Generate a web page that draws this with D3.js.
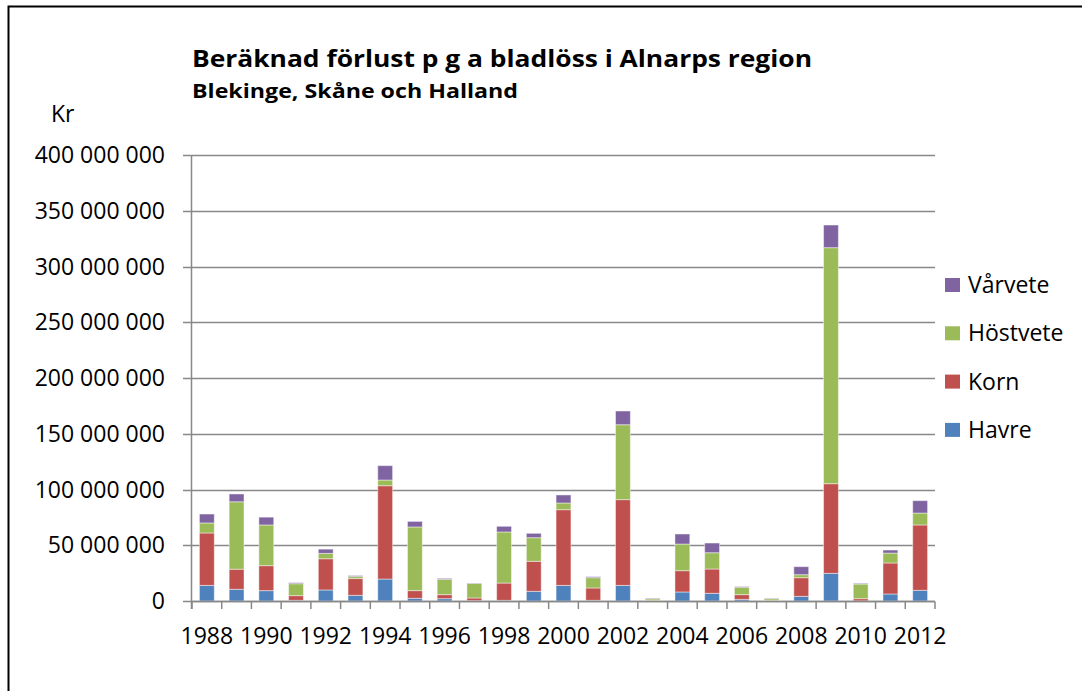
<!DOCTYPE html>
<html>
<head>
<meta charset="utf-8">
<script src="https://cdn.jsdelivr.net/npm/d3@7"></script>
<style>
  html, body { margin: 0; padding: 0; background: #fff; }
  svg text { font-family: "Open Sans", sans-serif; fill: #000; }
</style>
</head>
<body>
<div id="chart"></div>
<script>
// Data (miljoner kr)
var years = d3.range(1988, 2013).map(String);
var seriesNames = ["Havre", "Korn", "Höstvete", "Vårvete"];
var seriesColors = ["#4F81BD", "#C0504D", "#9BBB59", "#8064A2"];

var havre    = [14, 10.5, 9.3, 0.6, 9.9, 5.1, 19.7, 2.4, 2.1, 0.3, 0.6, 8.7, 14, 0.6, 14, 0.1, 8.1, 6.9, 1.5, 0.1, 4.2, 24.8, 0.1, 6.3, 9.6];
var korn     = [47, 18, 22.4, 4.2, 28, 15, 83.7, 6.9, 3.6, 2.4, 15.5, 26.9, 67.9, 11.1, 76.9, 0.3, 19.1, 21.8, 4.2, 0.3, 16.7, 80.4, 2.0, 27.8, 58.6];
var hostvete = [9, 60.5, 36.5, 10.7, 4.8, 1.8, 5.1, 57.1, 13.7, 13.1, 45.8, 21.2, 6, 9.2, 67.2, 1.5, 23.9, 14.6, 6.6, 1.6, 2.7, 211.7, 13.1, 8.9, 10.7];
var varvete  = [8, 7, 7, 0.9, 3.8, 0.9, 12.9, 5, 0.9, 0.3, 5.1, 3.9, 7.2, 0.9, 12.3, 0.5, 9, 8.7, 0.6, 0.4, 7.2, 20.3, 0.6, 2.7, 11.1];

var yTicks = d3.range(0, 400000001, 50000000);
var xLabels = years.filter(function(d, i){ return i % 2 === 0; });

var rows = years.map(function(y, i){
    return {
        year: y,
        "Havre": havre[i] * 1e6,
        "Korn": korn[i] * 1e6,
        "Höstvete": hostvete[i] * 1e6,
        "Vårvete": varvete[i] * 1e6
    };
});

var W = 1082, H = 691;
var svg = d3.select("#chart").append("svg")
    .attr("width", W)
    .attr("height", H);

// frame (only top and left edges visible)
svg.append("path")
    .attr("d", "M8.5,691 V6.5 H1082")
    .attr("fill", "none")
    .attr("stroke", "#000")
    .attr("stroke-width", 2);

var x = d3.scaleBand().domain(years).range([192, 935]).paddingInner(0.5).paddingOuter(0.25);
var y = d3.scaleLinear().domain([0, 400000000]).range([601, 155]);
var color = d3.scaleOrdinal().domain(seriesNames).range(seriesColors);

var fmt = function(d){ return d3.format(",")(d).replace(/,/g, " "); };

// gridlines + y labels
var g = svg.append("g");
g.selectAll(".grid").data(yTicks).enter().append("line")
    .attr("x1", 183).attr("x2", 935)
    .attr("y1", function(d){ return Math.round(y(d)) + 0.5; })
    .attr("y2", function(d){ return Math.round(y(d)) + 0.5; })
    .attr("stroke", "#888")
    .attr("stroke-width", 1.5);

g.selectAll(".ylab").data(yTicks).enter().append("text")
    .attr("x", 165)
    .attr("y", function(d){ return y(d) + 8; })
    .attr("text-anchor", "end")
    .style("font-size", "23px")
    .text(fmt);

// y axis line
g.append("line")
    .attr("x1", 191.5).attr("x2", 191.5)
    .attr("y1", y(400000000)).attr("y2", 609)
    .attr("stroke", "#888").attr("stroke-width", 1.5);

// stacked bars
var stack = d3.stack().keys(seriesNames);
var layers = stack(rows);

svg.append("g").selectAll("g").data(layers).enter().append("g")
    .attr("fill", function(d){ return color(d.key); })
    .selectAll("rect").data(function(d){ return d; }).enter().append("rect")
    .attr("x", function(d){ return x(d.data.year); })
    .attr("width", x.bandwidth())
    .attr("y", function(d){ return y(d[1]); })
    .attr("height", function(d){ return Math.max(0, y(d[0]) - y(d[1])); })
    .attr("stroke", "#fff")
    .attr("stroke-opacity", 0.45)
    .attr("stroke-width", 1);

// x axis line and category ticks
var bounds = years.map(function(d){ return x(d) - x.step() * x.paddingInner() / 2; }).concat([935]);
svg.append("line")
    .attr("x1", 191.5).attr("x2", 935)
    .attr("y1", 601.5).attr("y2", 601.5)
    .attr("stroke", "#888").attr("stroke-width", 1.5);
svg.selectAll(".xtick").data(bounds).enter().append("line")
    .attr("x1", function(d){ return d; }).attr("x2", function(d){ return d; })
    .attr("y1", 601.5).attr("y2", 609)
    .attr("stroke", "#888").attr("stroke-width", 1.5);

svg.selectAll(".xlab").data(xLabels).enter().append("text")
    .attr("x", function(d){ return x(d) + x.bandwidth() / 2; })
    .attr("y", 644)
    .attr("text-anchor", "middle")
    .style("font-size", "23px")
    .text(function(d){ return d; });

// titles
svg.append("text")
    .attr("x", 192).attr("y", 67)
    .attr("textLength", 620).attr("lengthAdjust", "spacingAndGlyphs")
    .style("font-size", "23.5px").style("font-weight", "bold")
    .text("Beräknad förlust p g a bladlöss i Alnarps region");
svg.append("text")
    .attr("x", 192).attr("y", 98)
    .attr("textLength", 326).attr("lengthAdjust", "spacingAndGlyphs")
    .style("font-size", "19.5px").style("font-weight", "bold")
    .text("Blekinge, Skåne och Halland");
svg.append("text")
    .attr("x", 51).attr("y", 122)
    .style("font-size", "23px")
    .text("Kr");

// legend (top to bottom reversed order)
var legend = svg.append("g").selectAll("g").data(seriesNames.slice().reverse()).enter().append("g")
    .attr("transform", function(d, i){ return "translate(945," + (278 + i * 48.3) + ")"; });
legend.append("rect")
    .attr("width", 15).attr("height", 14)
    .attr("fill", function(d){ return color(d); });
legend.append("text")
    .attr("x", 23).attr("y", 15)
    .style("font-size", "23px")
    .text(function(d){ return d; });
</script>
</body>
</html>
